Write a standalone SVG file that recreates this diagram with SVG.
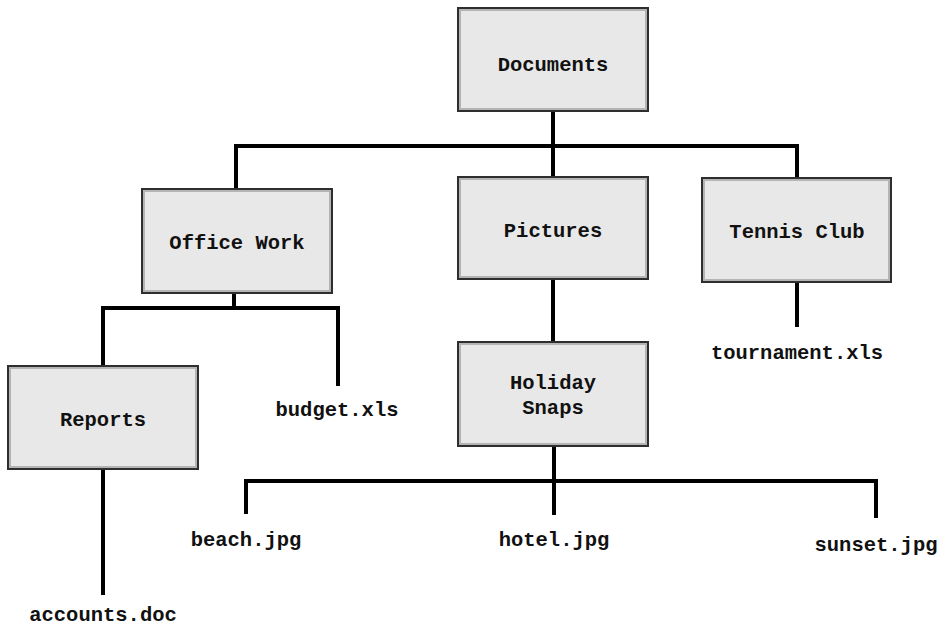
<svg xmlns="http://www.w3.org/2000/svg" width="943" height="626" viewBox="0 0 943 626">
<style>
.box{fill:#e8e8e8;stroke:#2e2e2e;stroke-width:2}
.inner{fill:none;stroke:#b4b4b4;stroke-width:2}
.t{font-family:"Liberation Mono","Courier New",monospace;font-weight:bold;font-size:20.5px;fill:#111;text-anchor:middle;dominant-baseline:central}
.c{fill:none;stroke:#000;stroke-width:4;stroke-linecap:butt}
</style>
<rect width="943" height="626" fill="#fff"/>
<g id="connectors">
<path class="c" d="M553 111V146M236 146H797M236 144V189M553 144V177M797 144V178"/>
<path class="c" d="M234 293V308M103 308H338M103 306V366M338 306V386"/>
<path class="c" d="M103 469V595"/>
<path class="c" d="M553 279V342"/>
<path class="c" d="M554 446V481M246 481H876M246 479V514M554 479V515M876 479V518"/>
<path class="c" d="M797 282V327"/>
</g>
<g id="documents"><rect class="box" x="458" y="8" width="190" height="103"/><rect class="inner" x="460" y="10" width="186" height="99"/><text class="t" x="553" y="65">Documents</text></g>
<g id="office-work"><rect class="box" x="142" y="189" width="190" height="104"/><rect class="inner" x="144" y="191" width="186" height="100"/><text class="t" x="237" y="243">Office Work</text></g>
<g id="pictures"><rect class="box" x="458" y="177" width="190" height="102"/><rect class="inner" x="460" y="179" width="186" height="98"/><text class="t" x="553" y="231">Pictures</text></g>
<g id="tennis-club"><rect class="box" x="702" y="178" width="189" height="104"/><rect class="inner" x="704" y="180" width="185" height="100"/><text class="t" x="797" y="232">Tennis Club</text></g>
<g id="reports"><rect class="box" x="8" y="366" width="190" height="103"/><rect class="inner" x="10" y="368" width="186" height="99"/><text class="t" x="103" y="420">Reports</text></g>
<g id="holiday-snaps"><rect class="box" x="458" y="342" width="190" height="104"/><rect class="inner" x="460" y="344" width="186" height="100"/><text class="t" x="553" y="383">Holiday</text><text class="t" x="553" y="408">Snaps</text></g>
<g id="budget"><text class="t" x="337" y="410">budget.xls</text></g>
<g id="tournament"><text class="t" x="797" y="353">tournament.xls</text></g>
<g id="accounts"><text class="t" x="103" y="615">accounts.doc</text></g>
<g id="beach"><text class="t" x="246" y="540">beach.jpg</text></g>
<g id="hotel"><text class="t" x="554" y="540">hotel.jpg</text></g>
<g id="sunset"><text class="t" x="876" y="545">sunset.jpg</text></g>
</svg>
